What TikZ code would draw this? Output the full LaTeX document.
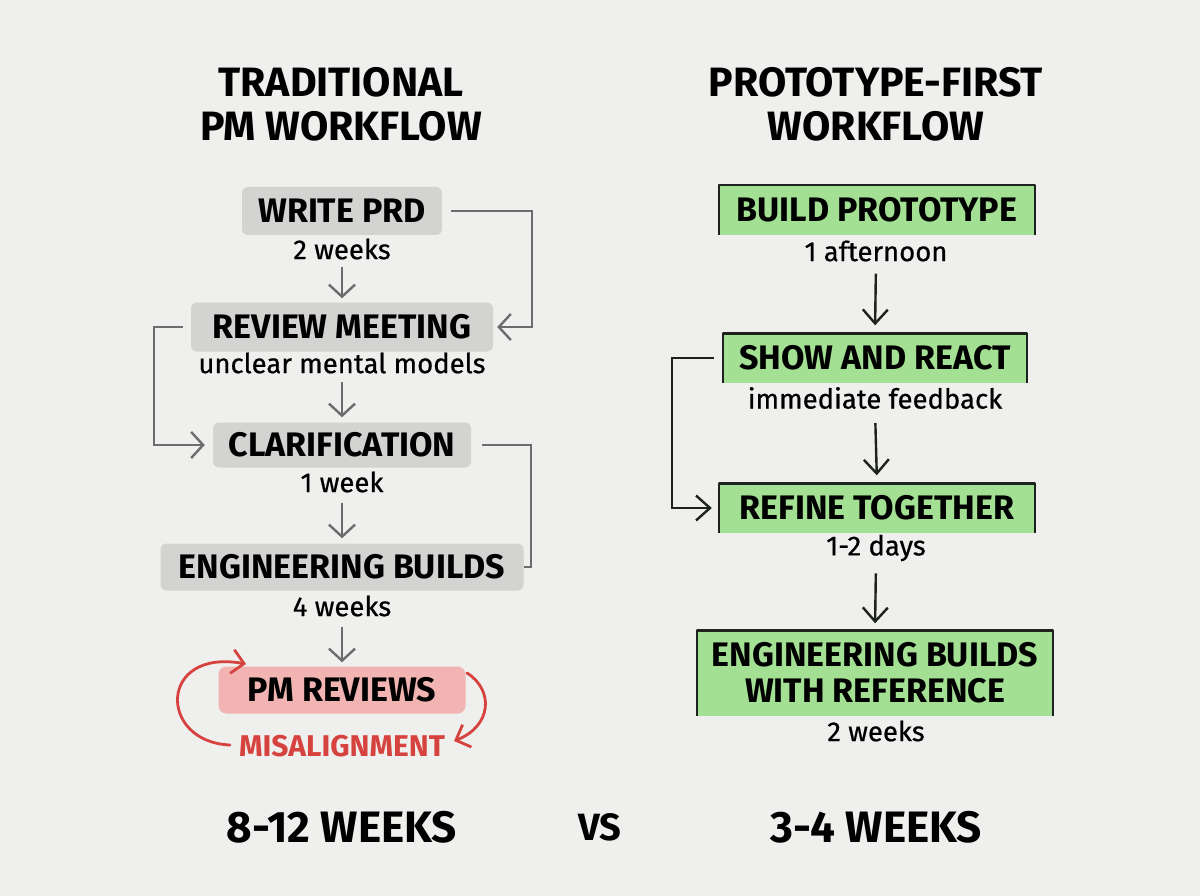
\documentclass[tikz,border=0pt]{standalone}
\usepackage{fontspec}
\setmainfont{Fira Sans}
\newfontfamily\subfam{Fira Sans}[FakeBold=0.6]
\usetikzlibrary{arrows.meta}
\definecolor{bg}{HTML}{EFEFED}
\definecolor{boxgray}{HTML}{D3D3D2}
\definecolor{boxgreen}{HTML}{A4E093}
\definecolor{boxpink}{HTML}{F2B4B2}
\definecolor{linegray}{HTML}{6C6C6C}
\definecolor{darkline}{HTML}{1E221E}
\definecolor{redline}{HTML}{D6433F}
\begin{document}
\begin{tikzpicture}[x=1pt,y=-1pt,
  titlefont/.style={font=\fontsize{41}{44}\selectfont\bfseries},
  stepfont/.style={font=\fontsize{34}{36}\selectfont\bfseries},
  subfont/.style={font=\fontsize{27.5}{29}\subfam\bfseries},
  graybox/.style={stepfont, fill=boxgray, rounded corners=6pt, inner sep=0pt, text=black},
  pinkbox/.style={stepfont, fill=boxpink, rounded corners=8pt, inner sep=0pt, text=black},
  greenbox/.style={stepfont, fill=boxgreen, inner sep=0pt, text=black, align=center},
  greenedge/.style={draw=darkline, line width=2.4pt, line join=round},
  sublabel/.style={font=\fontsize{27.5}{29}\selectfont\subfam, inner sep=0pt, text=black},
  garrow/.style={draw=linegray, line width=2.4pt, -{Straight Barb[length=12pt,width=26pt,line width=2.4pt]}},
  gline/.style={draw=linegray, line width=2.4pt},
  karrow/.style={draw=darkline, line width=2.4pt, -{Straight Barb[length=14pt,width=25pt,line width=2.4pt]}},
  rarrow/.style={draw=redline, line width=2.8pt, line cap=round, -{Straight Barb[length=12pt,width=24pt,line width=2.8pt]}},
  total/.style={font=\fontsize{44}{46}\selectfont\bfseries, inner sep=0pt}
]
\fill[bg] (0,0) rectangle (1200,896);
\useasboundingbox (0,0) rectangle (1200,896);

% titles
\node[titlefont, align=center] (tleft) at (341,104) {TRADITIONAL\\PM WORKFLOW};
\node[titlefont, align=center] (tright) at (876,104) {PROTOTYPE-FIRST\\WORKFLOW};

% left column
\node[graybox, minimum width=200pt, minimum height=48pt] (wprd) at (342,211) {WRITE PRD};
\node[sublabel] (wprdL) at (342,249) {2 weeks};
\node[graybox, minimum width=302pt, minimum height=49pt] (rm) at (342,327) {REVIEW MEETING};
\node[sublabel] (rmL) at (342,363) {unclear mental models};
\node[graybox, minimum width=258pt, minimum height=45pt] (cl) at (342,445) {CLARIFICATION};
\node[sublabel] (clL) at (342,482) {1 week};
\node[graybox, minimum width=363pt, minimum height=47pt] (eb) at (342,567) {ENGINEERING BUILDS};
\node[sublabel] (ebL) at (342,606) {4 weeks};
\node[pinkbox, minimum width=247pt, minimum height=47pt] (pm) at (342,690) {PM REVIEWS};
\node[font=\fontsize{30}{31}\selectfont\bfseries, text=redline, inner sep=0pt] (mis) at (342,746) {MISALIGNMENT};

\draw[garrow, shorten <=7pt, shorten >=4pt] (wprdL.south) -- (rm.north);
\draw[garrow, shorten <=8pt, shorten >=5pt] (rmL.south) -- (cl.north);
\draw[garrow, shorten <=10pt, shorten >=5pt] (clL.south) -- (eb.north);
\draw[garrow, shorten <=10pt, shorten >=4pt] (ebL.south) -- (pm.north);

\draw[garrow, shorten <=9pt, shorten >=4pt] (wprd.east) -- ([xshift=90pt]wprd.east) |- (rm.east);
\draw[garrow, shorten <=8pt, shorten >=8pt] (rm.west) -- ([xshift=-37pt]rm.west) |- (cl.west);
\draw[gline, shorten <=11pt] (cl.east) -- ([xshift=60pt]cl.east) |- (eb.east);

% red loops
\draw[rarrow] (230,745) .. controls (158,742) and (158,648) .. (246,664);
\draw[rarrow] (467,673) .. controls (494,690) and (492,726) .. (454,741);

% right column
\node[greenbox, minimum width=316pt, minimum height=50pt] (bp) at (877,210) {BUILD PROTOTYPE};
\node[sublabel] (bpL) at (876,251) {1 afternoon};
\node[greenbox, minimum width=304pt, minimum height=49pt] (sr) at (875,358) {SHOW AND REACT};
\node[sublabel] (srL) at (875,398) {immediate feedback};
\node[greenbox, minimum width=316pt, minimum height=49pt] (rt) at (877,508) {REFINE TOGETHER};
\node[sublabel] (rtL) at (876,548) {1-2 days};
\node[greenbox, minimum width=356pt, minimum height=85pt] (ebr) at (875,673) {ENGINEERING BUILDS\\WITH REFERENCE};
\node[sublabel] (ebrL) at (876,731) {2 weeks};

\foreach \b in {bp,sr,rt,ebr}{
  \draw[greenedge] (\b.south west) -- (\b.north west) -- (\b.north east) -- (\b.south east);
}

\draw[karrow, shorten <=12pt, shorten >=8pt] (bpL.south) -- (sr.north);
\draw[karrow, shorten <=14pt, shorten >=8pt] (srL.south) -- (rt.north);
\draw[karrow, shorten <=12pt, shorten >=7pt] (rtL.south) -- (ebr.north);
\draw[karrow, shorten <=9pt, shorten >=7pt] (sr.west) -- ([xshift=-51pt]sr.west) |- (rt.west);

% totals
\node[total] (totL) at (342,827) {8-12 WEEKS};
\node[font=\fontsize{38}{40}\selectfont\bfseries, inner sep=0pt] (vs) at (600,827) {VS};
\node[total] (totR) at (876,827) {3-4 WEEKS};
\end{tikzpicture}
\end{document}
